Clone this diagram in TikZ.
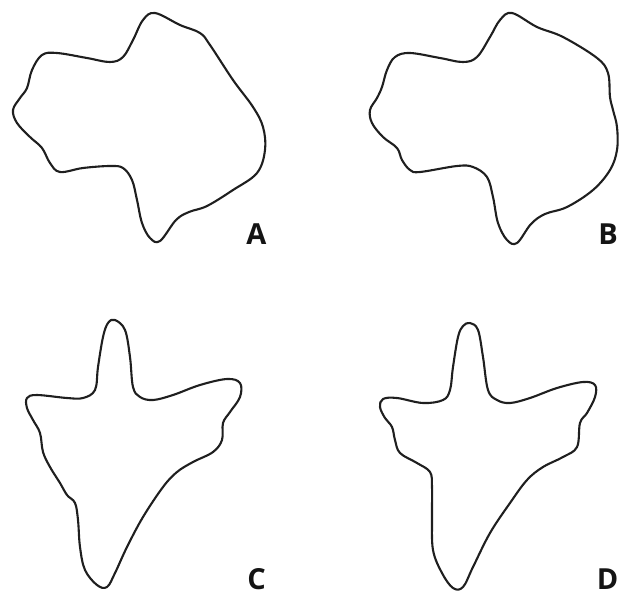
\documentclass[tikz,border=0pt]{standalone}
\usepackage{fontspec}
\setmainfont{Open Sans}
\begin{document}
\begin{tikzpicture}[x=1pt,y=-1pt,
  blob/.style={line width=2.1pt,draw=black!88,line join=round},
  lbl/.style={font=\fontsize{29}{29}\selectfont\bfseries,inner sep=0pt,text=black!92,text depth=0pt,anchor=base}]
\useasboundingbox (0,0) rectangle (621,592);
% A
\draw[blob] plot[smooth cycle,tension=0.6] coordinates {
(155,13) (180,25) (200,33) (210,45) (233,80) (253,107) (263,127) (265,150)
(257,173) (233,190) (207,206) (189,212) (176,220) (160,241) (150,238)
(142,223) (137,200) (132,180) (123,168) (110,166) (83,168) (60,172)
(50,163) (42,148) (30,137) (17,123) (13,110) (20,98) (27,88) (32,70)
(42,55) (57,53) (87,58) (110,62) (123,57) (133,40) (143,20)};
% B
\draw[blob] plot[smooth cycle,tension=0.6] coordinates {
(512,13) (537,27) (563,37) (597,58) (608,73) (610,97) (613,110) (617,127)
(617,150) (610,170) (593,190) (567,207) (545,214) (531,224) (517,243)
(507,240) (498,223) (493,197) (487,177) (473,167) (457,166) (420,172)
(410,170) (402,160) (397,148) (383,137) (372,123) (370,110) (377,98)
(382,87) (387,70) (395,57) (410,53) (440,58) (463,62) (477,57) (490,37) (500,20)};
% C
\draw[blob] plot[smooth cycle,tension=0.6] coordinates {
(115,320) (125,330) (130,357) (133,387) (140,397) (153,400) (173,395)
(200,385) (227,379) (240,383) (240,397) (230,412) (223,423) (222,440)
(213,452) (193,462) (177,472) (163,487) (143,517) (127,547) (115,573)
(107,587) (97,585) (85,570) (80,547) (78,520) (75,503) (67,495) (60,483)
(50,467) (43,452) (40,433) (33,420) (27,408) (27,398) (37,395) (67,398)
(83,398) (95,390) (98,367) (103,337) (108,323)};
% D
\draw[blob] plot[smooth cycle,tension=0.6] coordinates {
(470,323) (478,330) (483,357) (488,390) (497,400) (510,403) (530,398)
(557,388) (583,382) (595,385) (595,397) (587,413) (580,423) (577,447)
(563,457) (543,467) (527,480) (510,503) (490,533) (473,567) (463,587)
(453,588) (442,573) (433,550) (432,517) (432,487) (430,472) (417,463)
(400,453) (395,440) (392,427) (385,418) (380,407) (383,399) (397,398)
(423,403) (443,400) (450,390) (453,367) (458,337) (463,326)};
\node[lbl] (la) at (256.5,244) {A};
\node[lbl] (lb) at (608,244) {B};
\node[lbl] (lc) at (256.5,589) {C};
\node[lbl] (ld) at (607.5,589) {D};
\end{tikzpicture}
\end{document}
